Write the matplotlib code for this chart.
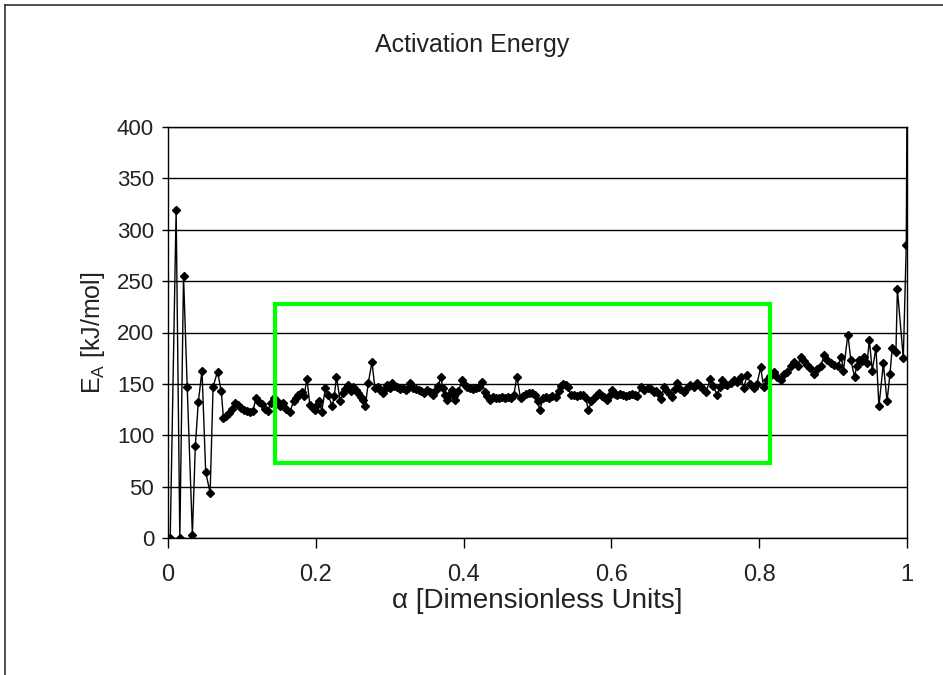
import matplotlib
matplotlib.use("Agg")
import matplotlib.pyplot as plt
from matplotlib.patches import Rectangle
from matplotlib.lines import Line2D

# Conversion (alpha) and apparent activation energy (kJ/mol)
alpha = [
    0.003, 0.011, 0.016, 0.021, 0.026, 0.033, 0.037, 0.041, 0.046, 0.051,
    0.057, 0.061, 0.067, 0.072,
    0.075, 0.079, 0.083, 0.087, 0.091, 0.095, 0.099, 0.103, 0.107, 0.111,
    0.115, 0.119, 0.123, 0.127, 0.131, 0.135, 0.139, 0.143,
    0.147, 0.151, 0.156, 0.160, 0.165, 0.170, 0.173, 0.176, 0.181, 0.184,
    0.188, 0.192, 0.196, 0.199, 0.202, 0.205, 0.208, 0.213, 0.217, 0.222,
    0.225, 0.228, 0.233, 0.237, 0.240, 0.244, 0.248, 0.251, 0.254, 0.257,
    0.261, 0.264, 0.267, 0.271, 0.276, 0.280, 0.284, 0.287, 0.291, 0.294,
    0.296, 0.300, 0.303, 0.306, 0.310, 0.314, 0.318, 0.322, 0.325, 0.328,
    0.332, 0.336, 0.339, 0.343, 0.346, 0.350, 0.354, 0.357, 0.359, 0.363,
    0.366, 0.369, 0.372, 0.375, 0.378, 0.381, 0.384, 0.387, 0.389, 0.393,
    0.398, 0.402, 0.405, 0.409, 0.413, 0.417, 0.421, 0.425, 0.429, 0.432,
    0.436, 0.440, 0.444, 0.448, 0.452, 0.456, 0.460, 0.464, 0.468, 0.472,
    0.477, 0.481, 0.485, 0.489, 0.493, 0.497, 0.500, 0.503, 0.508, 0.512,
    0.516, 0.520, 0.525, 0.529, 0.532, 0.535, 0.538, 0.541, 0.545, 0.549,
    0.553, 0.557, 0.561, 0.565, 0.569, 0.573, 0.576, 0.580, 0.583, 0.587,
    0.590, 0.594, 0.598, 0.601, 0.605, 0.608, 0.612, 0.616, 0.620, 0.624,
    0.628, 0.632, 0.635, 0.640, 0.644, 0.649, 0.653, 0.657, 0.661, 0.664,
    0.667, 0.671, 0.675, 0.679, 0.682, 0.686, 0.689, 0.693, 0.698, 0.702,
    0.707, 0.712, 0.716, 0.720, 0.724, 0.728, 0.734, 0.738, 0.743, 0.747,
    0.750, 0.754, 0.757, 0.762, 0.766, 0.770, 0.775, 0.779, 0.784, 0.788,
    0.793, 0.797, 0.802, 0.806, 0.811, 0.815, 0.820, 0.824, 0.829, 0.833,
    0.838, 0.843, 0.847, 0.852, 0.856, 0.860, 0.865, 0.869, 0.874, 0.878,
    0.883, 0.888, 0.892, 0.897, 0.901, 0.906, 0.911, 0.914, 0.920, 0.924,
    0.929, 0.932, 0.935, 0.939, 0.942, 0.946, 0.949, 0.953, 0.958, 0.962,
    0.968, 0.973, 0.977, 0.980, 0.985, 0.987, 0.995, 0.999, 1.000,
]
energy = [
    0, 319, 0, 255, 147, 3, 90, 132, 163, 64,
    44, 147, 162, 143,
    117, 119, 122, 126, 131, 129, 127, 125, 124, 123,
    124, 136, 132, 130, 126, 124, 131, 136,
    133, 128, 131, 126, 123, 133, 136, 139, 142, 138,
    155, 129, 127, 125, 129, 133, 123, 146, 139, 128,
    138, 157, 133, 141, 145, 149, 143, 147, 144, 141,
    137, 134, 128, 151, 171, 146, 147, 144, 141, 145,
    149, 146, 151, 148, 147, 145, 146, 144, 146, 151,
    146, 145, 144, 143, 141, 144, 142, 141, 139, 144,
    148, 157, 146, 139, 134, 140, 144, 138, 134, 143,
    154, 149, 147, 146, 145, 146, 147, 152, 142, 138,
    134, 137, 136, 136, 137, 136, 137, 136, 139, 157,
    136, 138, 140, 141, 141, 139, 133, 125, 136, 137,
    136, 138, 137, 143, 148, 150, 149, 147, 139, 139,
    138, 139, 139, 136, 125, 133, 136, 139, 141, 138,
    137, 134, 139, 144, 140, 139, 140, 139, 138, 139,
    140, 139, 138, 147, 144, 146, 145, 142, 143, 140,
    135, 147, 143, 140, 137, 145, 151, 145, 142, 146,
    149, 147, 151, 148, 145, 142, 155, 148, 139, 147,
    154, 150, 149, 151, 154, 152, 157, 146, 159, 150,
    146, 150, 166, 147, 154, 158, 162, 157, 154, 160,
    162, 167, 171, 167, 176, 172, 168, 165, 160, 164,
    167, 178, 173, 170, 168, 167, 176, 163, 198, 173,
    157, 167, 173, 172, 176, 170, 193, 163, 185, 128,
    170, 133, 160, 185, 181, 242, 175, 285, 420,
]

x_ticks = [0, 0.2, 0.4, 0.6, 0.8, 1]
x_tick_labels = ["0", "0.2", "0.4", "0.6", "0.8", "1"]
y_ticks = [0, 50, 100, 150, 200, 250, 300, 350, 400]

# Conversion window where the activation energy is nearly constant
window_alpha = (0.145, 0.815)
window_energy = (73, 228)

plt.rcParams["font.family"] = ["Liberation Sans", "DejaVu Sans"]
plt.rcParams["mathtext.fontset"] = "custom"
plt.rcParams["mathtext.rm"] = "Liberation Sans"
plt.rcParams["mathtext.it"] = "Liberation Sans"

TEXT = "#222222"
W, H = 943, 675
fig = plt.figure(figsize=(W / 100, H / 100), dpi=100, facecolor="white")
ax = fig.add_axes([168 / W, 1 - 538 / H, (907 - 168) / W, (538 - 127) / H])

ax.plot(alpha, energy, color="black", lw=1.0, marker="D", ms=3.6,
        mfc="black", mec="black", zorder=3)

ax.add_patch(Rectangle((window_alpha[0], window_energy[0]),
                       window_alpha[1] - window_alpha[0],
                       window_energy[1] - window_energy[0],
                       fill=False, edgecolor="#00ff00", lw=3.0, zorder=4))

ax.set_xlim(0, 1)
ax.set_ylim(0, 400)
ax.set_xticks(x_ticks)
ax.set_xticklabels(x_tick_labels)
ax.set_yticks(y_ticks)
ax.yaxis.grid(True, color="black", lw=1.0)
ax.set_axisbelow(True)

for sp in ax.spines.values():
    sp.set_color("black")
    sp.set_linewidth(1.0)

ax.tick_params(axis="x", direction="out", length=7, width=1.0, pad=12,
               labelsize=17, colors="black", labelcolor=TEXT)
ax.tick_params(axis="y", direction="out", length=4, width=1.0, pad=6,
               labelsize=16, colors="black", labelcolor=TEXT)

ax.set_xlabel("\u03b1 [Dimensionless Units]", fontsize=20, color=TEXT)
ax.set_ylabel(r"E$_\mathrm{A}$ [kJ/mol]", fontsize=18, color=TEXT)
ax.xaxis.set_label_coords(0.5, -0.122)
ax.yaxis.set_label_coords(-0.082, 0.5)

fig.text(472 / W, 1 - 45 / H, "Activation Energy", ha="center", va="center",
         fontsize=18, color=TEXT)

# Outer chart frame (top and left edges)
fig.add_artist(Line2D([5 / W, 1], [1 - 5 / H, 1 - 5 / H], color="#333333",
                      lw=1.2, transform=fig.transFigure))
fig.add_artist(Line2D([5 / W, 5 / W], [0, 1 - 5 / H], color="#333333",
                      lw=1.2, transform=fig.transFigure))

fig.savefig("out.png", dpi=100, facecolor="white")
